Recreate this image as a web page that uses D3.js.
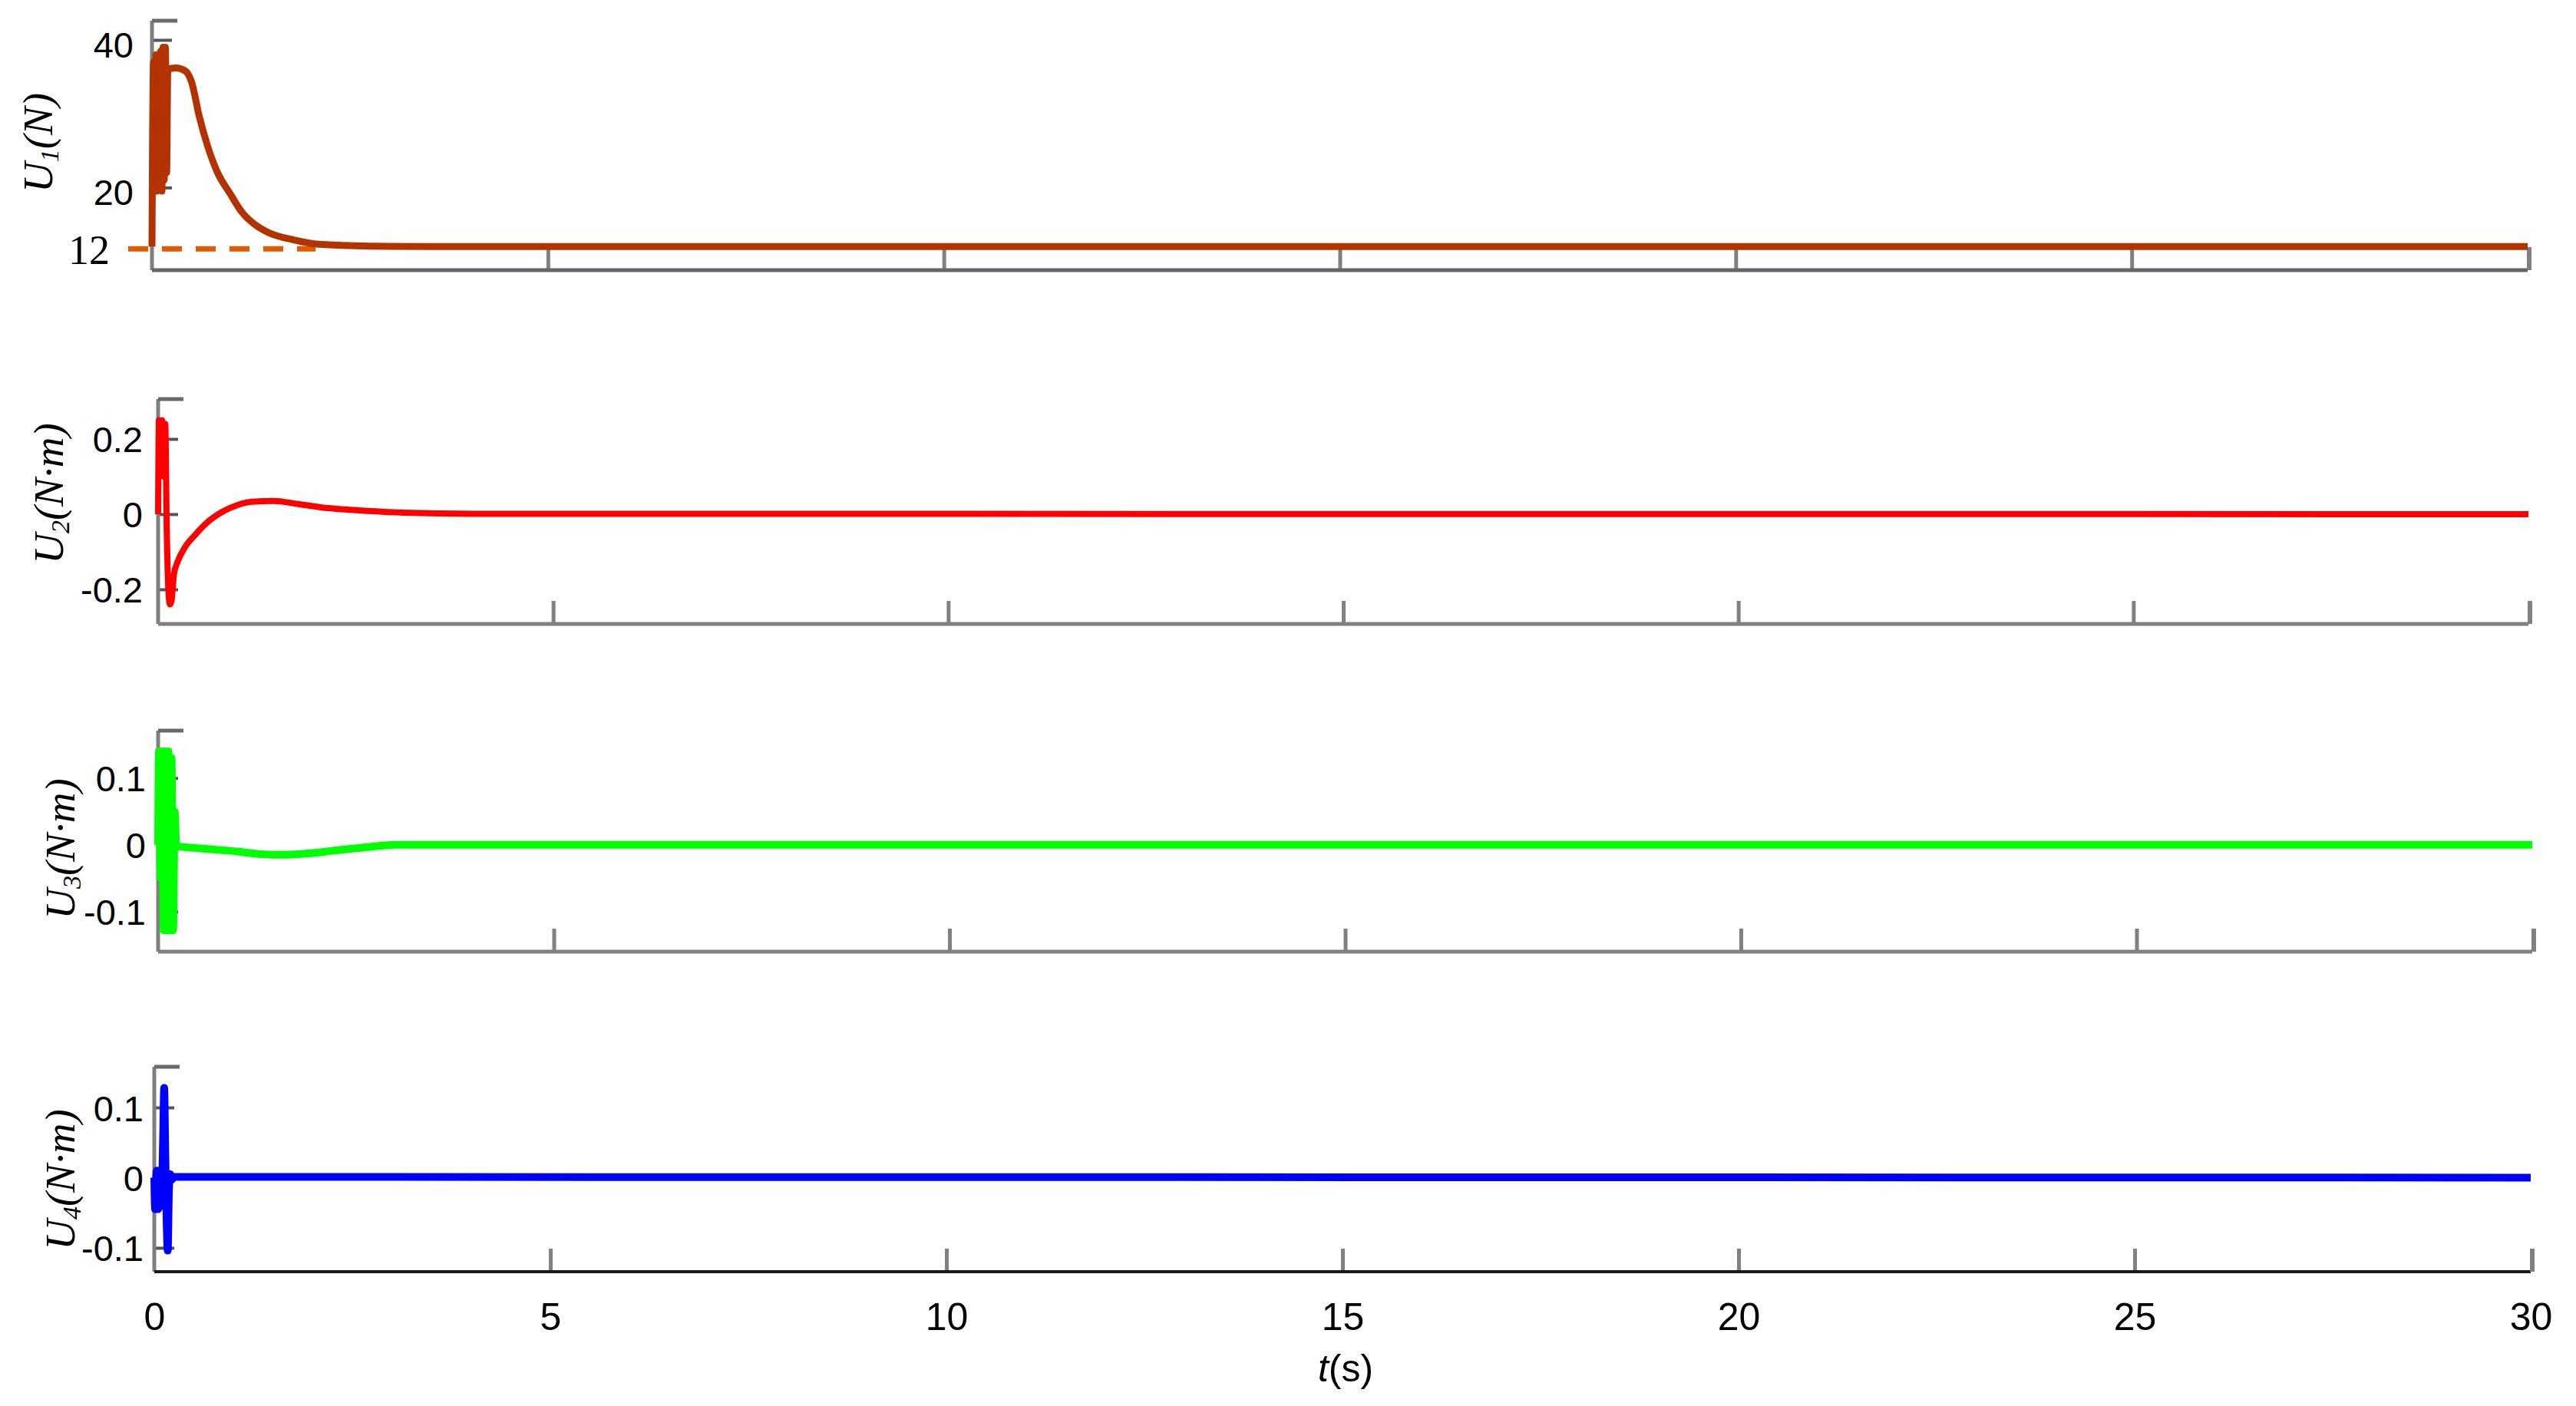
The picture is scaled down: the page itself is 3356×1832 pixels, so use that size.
<!DOCTYPE html>
<html>
<head>
<meta charset="utf-8">
<style>
  body { margin: 0; background: #fff; }
  svg text { fill: #000; }
</style>
<title>Control inputs U1-U4</title>
</head>
<body>
<svg id="chart" width="3356" height="1832"></svg>
<script src="https://cdn.jsdelivr.net/npm/d3@7/dist/d3.min.js"></script>
<script>
// values (time in s)
var u1Time = [0, 0.005, 0.02, 0.035, 0.05, 0.065, 0.08, 0.095, 0.11, 0.125, 0.14, 0.155, 0.17, 0.185, 0.2, 0.3, 0.42, 0.5, 0.6, 0.7, 0.82, 0.99, 1.14, 1.31, 1.47, 1.79, 2.11, 2.76, 3.5, 30];
var u1Value = [12, 22, 37, 20, 38, 19.5, 38, 20, 38.5, 19.5, 39, 21, 39, 22, 36, 36.2, 35.8, 34.3, 29.5, 25.7, 22.2, 19.1, 16.6, 14.9, 13.9, 12.9, 12.3, 12.05, 12, 12];

var u2Time = [0, 0.01, 0.03, 0.05, 0.07, 0.09, 0.11, 0.13, 0.15, 0.17, 0.2, 0.25, 0.34, 0.46, 0.61, 0.81, 1.0, 1.19, 1.46, 1.77, 2.15, 2.54, 3.1, 4, 30];
var u2Value = [0, 0.25, 0.12, 0.25, 0.1, 0.24, -0.05, -0.2, -0.24, -0.23, -0.16, -0.125, -0.088, -0.057, -0.024, 0.006, 0.024, 0.033, 0.035, 0.027, 0.016, 0.01, 0.004, 0.001, 0];

var u3Time = [0, 0.01, 0.03, 0.05, 0.07, 0.09, 0.11, 0.13, 0.15, 0.17, 0.19, 0.21, 0.23, 0.3, 0.6, 1.0, 1.3, 1.6, 1.9, 2.2, 2.6, 3.0, 30];
var u3Value = [0, 0.14, -0.05, 0.14, -0.128, 0.14, -0.128, 0.14, -0.128, 0.13, -0.128, 0.05, -0.002, -0.003, -0.006, -0.01, -0.014, -0.015, -0.013, -0.009, -0.004, 0, 0];

var u4Time = [0, 0.01, 0.03, 0.05, 0.07, 0.09, 0.11, 0.125, 0.14, 0.155, 0.17, 0.185, 0.2, 0.22, 0.25, 30];
var u4Value = [0, -0.045, 0.01, -0.045, 0.01, -0.04, 0.05, 0.128, 0.03, -0.06, -0.104, -0.02, 0.005, -0.003, 0.001, 0];

var u1Ticks = [20, 40];
var u2Ticks = [-0.2, 0, 0.2];
var u3Ticks = [-0.1, 0, 0.1];
var u4Ticks = [-0.1, 0, 0.1];
var timeTicks = [0, 5, 10, 15, 20, 25, 30];
var innerTimeTicks = [5, 10, 15, 20, 25];
var u1Reference = 12;
var u1RefLabel = "12";
var yLabelSub = ["1", "2", "3", "4"];
var yLabelUnit = ["(N)", "(N·m)", "(N·m)", "(N·m)"];
var xLabel = "t";

var sans = "'Liberation Sans', Arial, sans-serif";
var serif = "'Liberation Serif', 'Times New Roman', serif";

// panel layout
var panels = [
	{ t: u1Time, v: u1Value, ticks: u1Ticks, dom: [8.8, 42.6], x0: 198, x1: 3293, top: 27, bottom: 352, color: "#b33300", lw: 9, pad: 24, labShift: 7, bottomColor: "#666", labX: 68, labY: 186 },
	{ t: u2Time, v: u2Value, ticks: u2Ticks, dom: [-0.292, 0.306], x0: 206, x1: 3294, top: 520, bottom: 813, color: "#ff0000", lw: 8, pad: 20, labShift: 2, bottomColor: "#808080", labX: 82, labY: 643 },
	{ t: u3Time, v: u3Value, ticks: u3Ticks, dom: [-0.160, 0.171], x0: 206, x1: 3299, top: 952, bottom: 1240, color: "#00ff00", lw: 10, pad: 16, labShift: 2, bottomColor: "#808080", labX: 97, labY: 1106 },
	{ t: u4Time, v: u4Value, ticks: u4Ticks, dom: [-0.134, 0.158], x0: 201, x1: 3297, top: 1390, bottom: 1657, color: "#0000ff", lw: 10, pad: 14, labShift: 2, bottomColor: "#1a1a1a", labX: 97, labY: 1537 }
];

var svg = d3.select("#chart");
svg.append("rect").attr("width", 3356).attr("height", 1832).attr("fill", "#fff");

panels.forEach(function(p, i) {
	var x = d3.scaleLinear().domain([0, 30]).range([p.x0, p.x1]);
	var y = d3.scaleLinear().domain(p.dom).range([p.bottom, p.top]);
	var g = svg.append("g");

	// y ticks + labels
	var yAxis = g.append("g")
		.attr("transform", "translate(" + p.x0 + ",0)")
		.call(d3.axisLeft(y).tickValues(p.ticks).tickSize(-26).tickPadding(p.pad).tickFormat(function(d) { return String(d); }));
	yAxis.select(".domain").remove();
	yAxis.selectAll("line").attr("stroke", "#555").attr("stroke-width", 4);
	yAxis.selectAll("text")
		.attr("y", p.labShift)
		.style("font-size", "47px")
		.style("font-family", sans)
		.style("fill", "#000");

	// x ticks (inward from bottom)
	var xAxis = g.append("g")
		.attr("transform", "translate(0," + p.bottom + ")")
		.call(d3.axisBottom(x).tickValues(innerTimeTicks).tickSize(-30).tickFormat(""));
	xAxis.select(".domain").remove();
	xAxis.selectAll("line").attr("stroke", "#808080").attr("stroke-width", 5);

	// frame pieces
	g.append("line").attr("x1", p.x0).attr("x2", p.x0).attr("y1", p.top).attr("y2", p.bottom)
		.attr("stroke", "#7f7f7f").attr("stroke-width", 5);
	g.append("line").attr("x1", p.x0).attr("x2", p.x0 + 33).attr("y1", p.top).attr("y2", p.top)
		.attr("stroke", "#6a6a6a").attr("stroke-width", 5);
	g.append("line").attr("x1", p.x0).attr("x2", p.x1).attr("y1", p.bottom).attr("y2", p.bottom)
		.attr("stroke", p.bottomColor).attr("stroke-width", i === 3 ? 4 : 5);
	g.append("line").attr("x1", p.x1 + 2).attr("x2", p.x1 + 2).attr("y1", p.bottom).attr("y2", p.bottom - 30)
		.attr("stroke", "#808080").attr("stroke-width", 6);

	// reference line on U1
	if (i === 0) {
		g.append("line")
			.attr("x1", 167).attr("x2", 411)
			.attr("y1", y(u1Reference) + 3).attr("y2", y(u1Reference) + 3)
			.attr("stroke", "#e05a00").attr("stroke-width", 7)
			.attr("stroke-dasharray", "26,18");
		g.append("text")
			.attr("x", 143).attr("y", y(u1Reference) + 4)
			.attr("dy", "0.35em")
			.attr("text-anchor", "end")
			.style("font-family", serif)
			.style("font-size", "54px")
			.text(u1RefLabel);
	}

	// data line
	var pts = p.t.map(function(d, k) { return [d, p.v[k]]; });
	var line = d3.line()
		.x(function(d) { return x(d[0]); })
		.y(function(d) { return y(d[1]); })
		.curve(d3.curveMonotoneX);
	g.append("path")
		.datum(pts)
		.attr("d", line)
		.attr("fill", "none")
		.attr("stroke", p.color)
		.attr("stroke-width", p.lw)
		.attr("stroke-linejoin", "round");

	// y label
	var lab = g.append("text")
		.attr("transform", "translate(" + p.labX + "," + p.labY + ") rotate(-90)")
		.attr("text-anchor", "middle")
		.style("font-family", serif)
		.style("font-style", "italic")
		.style("font-size", "55px");
	lab.append("tspan").text("U");
	lab.append("tspan").style("font-size", "34px").attr("dy", 8).text(yLabelSub[i]);
	lab.append("tspan").attr("dy", -8).text(yLabelUnit[i]);

	// time labels under the last panel
	if (i === 3) {
		var lAxis = g.append("g")
			.attr("transform", "translate(0," + p.bottom + ")")
			.call(d3.axisBottom(x).tickValues(timeTicks).tickSize(0).tickPadding(40));
		lAxis.select(".domain").remove();
		lAxis.selectAll("text")
			.style("font-size", "50px")
			.style("font-family", sans)
			.style("fill", "#000");
	}
});

var xl = svg.append("text")
	.attr("x", 1753).attr("y", 1800)
	.attr("text-anchor", "middle")
	.style("font-family", sans)
	.style("font-size", "50px");
xl.append("tspan").style("font-style", "italic").text(xLabel);
xl.append("tspan").text("(s)");
</script>
</body>
</html>
